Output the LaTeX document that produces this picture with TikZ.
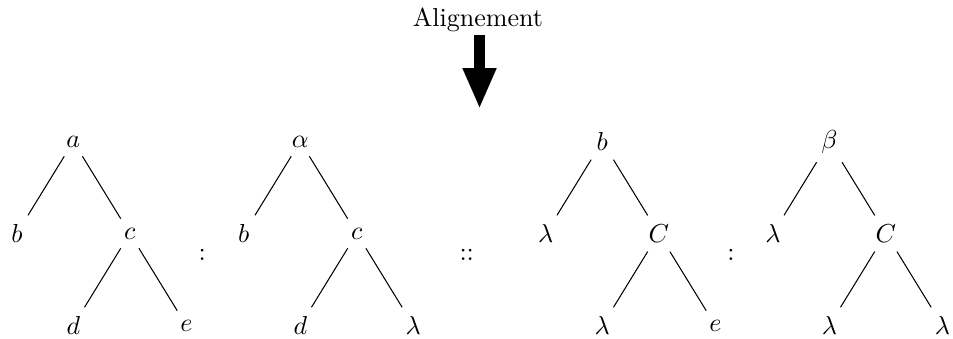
\documentclass[tikz,border=0pt]{standalone}
\usepackage{amsmath}
\usetikzlibrary{trees, arrows.meta}

\begin{document}
\begin{tikzpicture}[level distance=1.243cm, sibling distance=1.527cm,
			title/.style={inner sep=1pt, anchor=base},
			bigarrow/.style={line width=0.149cm, -{Triangle[width=0.419cm,length=0.554cm]}}
			]
			\useasboundingbox (0,0) rectangle (12.878,-4.568);
			
			\node [title](align) at (6.459,-0.361) {Alignement};
			\coordinate (tip) at (6.480,-1.473);
			\draw[bigarrow] (align.south -| tip) -- (tip);
			
			% first pair
			\node (a1) at (0.991,-1.912) {$a$}
				child {node (b1) {$b$}}
				child {node (c1) {$c$}
					child {node (d1) {$d$}}
					child {node (e1) {$e$}}};
			
			\node (s1) at (2.734,-3.439) {$:$};
			
			\node (r2) at (4.058,-1.912) {$\alpha$}
				child {node (b2) {$b$}}
				child {node (c2) {$c$}
					child {node (d2) {$d$}}
					child {node (l2) {$\lambda$}}};
			
			\node (s2) at (6.307,-3.439) {$::$};
			
			% second pair
			\node (r3) at (8.139,-1.912) {$b$}
				child {node (l31) {$\lambda$}}
				child {node (c3) {$C$}
					child {node (l32) {$\lambda$}}
					child {node (e3) {$e$}}};
			
			\node (s3) at (9.878,-3.439) {$:$};
			
			\node (r4) at (11.207,-1.912) {$\beta$}
				child {node (l41) {$\lambda$}}
				child {node (c4) {$C$}
					child {node (l42) {$\lambda$}}
					child {node (l43) {$\lambda$}}};
			
		\end{tikzpicture}
\end{document}
